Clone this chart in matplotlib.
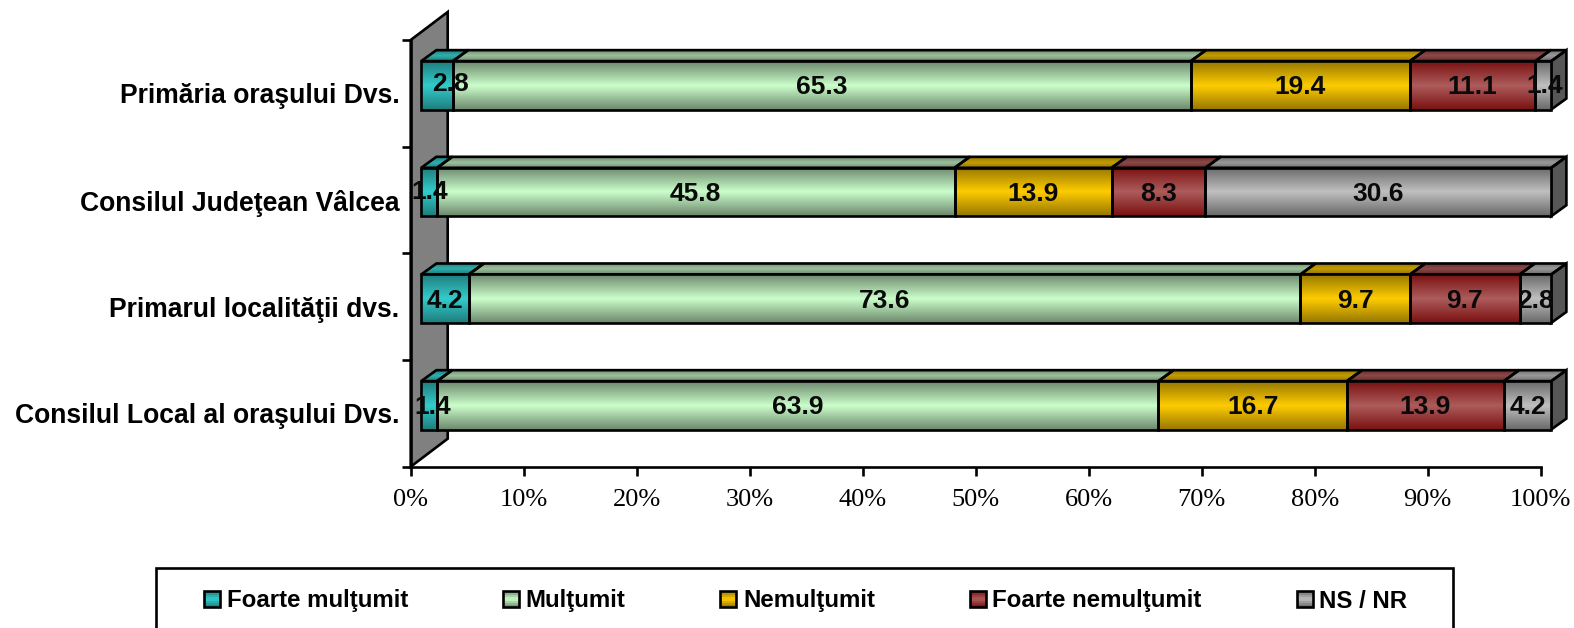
import numpy as np
import matplotlib
matplotlib.use("Agg")
import matplotlib.pyplot as plt
from matplotlib.colors import LinearSegmentedColormap
from matplotlib.legend_handler import HandlerBase
from matplotlib.patches import Polygon, Patch, Rectangle

categories = ["Consilul Local al oraşului Dvs.", "Primarul localităţii dvs.",
              "Consilul Judeţean Vâlcea", "Primăria oraşului Dvs."]
series_names = ["Foarte mulţumit", "Mulţumit", "Nemulţumit", "Foarte nemulţumit", "NS / NR"]
foarte_multumit = [1.4, 4.2, 1.4, 2.8]
multumit = [63.9, 73.6, 45.8, 65.3]
nemultumit = [16.7, 9.7, 13.9, 19.4]
foarte_nemultumit = [13.9, 9.7, 8.3, 11.1]
ns_nr = [4.2, 2.8, 30.6, 1.4]
series = [foarte_multumit, multumit, nemultumit, foarte_nemultumit, ns_nr]
x_ticks = list(range(0, 101, 10))

mid_colors = ["#33CCCC", "#CCFFCC", "#FFCC00", "#AD5C5C", "#C0C0C0"]
edge_colors = ["#1F7C7C", "#6B866B", "#947600", "#7A1010", "#686868"]
top_mid = ["#2FAFAF", "#9CC29C", "#C49C00", "#8A4A4A", "#9A9A9A"]
top_edge = ["#1F7C7C", "#6F8A6F", "#947600", "#6E2A2A", "#6E6E6E"]

W, H = 1574, 628
L, R, T, B = 410.7, 1540.7, 40.0, 466.7
fig = plt.figure(figsize=(W / 100, H / 100), dpi=100, facecolor="white")
ax = fig.add_axes([L / W, 1 - B / H, (R - L) / W, (B - T) / H])
px = 100 / (R - L)
py = 4 / (B - T)
LW = 1.9

sans = ["Liberation Sans", "DejaVu Sans"]
serif = ["Liberation Serif", "DejaVu Serif"]


def shaded(points, c_edge, c_mid, z):
    pts = np.array(points)
    cmap = LinearSegmentedColormap.from_list("g", [c_edge, c_mid, c_edge])
    grad = np.linspace(0, 1, 128).reshape(-1, 1)
    im = ax.imshow(grad, cmap=cmap, aspect="auto", zorder=z,
                   extent=[pts[:, 0].min(), pts[:, 0].max(), pts[:, 1].min(), pts[:, 1].max()])
    poly = Polygon(pts, closed=True, facecolor="none", edgecolor="black", lw=LW,
                   zorder=z + 0.1, clip_on=False, joinstyle="miter")
    ax.add_patch(poly)
    im.set_clip_box(fig.bbox)
    im.set_clip_path(poly)


class GradientHandle(HandlerBase):
    def __init__(self, c_edge, c_mid):
        super().__init__()
        self.cmap = LinearSegmentedColormap.from_list("g", [c_edge, c_mid, c_edge])

    def create_artists(self, legend, orig_handle, xdescent, ydescent, width, height,
                       fontsize, trans):
        n = 8
        artists = []
        for i in range(n):
            artists.append(Rectangle((-xdescent, -ydescent + height * i / n), width, height / n,
                                     facecolor=self.cmap((i + 0.5) / n), edgecolor="none",
                                     transform=trans))
        artists.append(Rectangle((-xdescent, -ydescent), width, height, facecolor="none",
                                 edgecolor="black", lw=LW, transform=trans))
        return artists


# back wall
wx, wy = 37 * px, 28 * py
ax.add_patch(Polygon([(0, -0.5), (wx, -0.5 + wy), (wx, 3.5 + wy), (0, 3.5)], closed=True,
                     facecolor="#808080", edgecolor="black", lw=LW, zorder=1, clip_on=False))

ox, oy = 10.5 * px, 8 * py
dx, dy = 15.2 * px, 11 * py
h = 48.4 * py

values = np.array(series, dtype=float)
shares = values / values.sum(axis=0) * 100
starts = np.vstack([np.zeros(4), np.cumsum(shares, axis=0)[:-1]])

# pixel nudges of the few labels that were moved by hand in the original
nudge = {(0, 3): (13, -3), (0, 2): (1, -2), (0, 0): (4, 0), (4, 3): (1, -1)}

for s, name in enumerate(series_names):
    for c in range(4):
        x0 = starts[s, c] + ox
        x1 = x0 + shares[s, c]
        y0 = c + oy - h / 2
        y1 = c + oy + h / 2
        shaded([(x0, y1), (x0 + dx, y1 + dy), (x1 + dx, y1 + dy), (x1, y1)],
               top_edge[s], top_mid[s], 3)
        shaded([(x0, y0), (x0, y1), (x1, y1), (x1, y0)], edge_colors[s], mid_colors[s], 4)
        if s == len(series_names) - 1:
            ax.add_patch(Polygon([(x1, y0), (x1, y1), (x1 + dx, y1 + dy), (x1 + dx, y0 + dy)],
                                 closed=True, facecolor="#565656", edgecolor="black", lw=LW,
                                 zorder=3, clip_on=False))
for s in range(5):
    for c in range(4):
        nx, ny = nudge.get((s, c), (0, 0))
        ax.text((starts[s, c] + ox + shares[s, c] / 2) + nx * px, c + oy - (ny + 2) * py,
                f"{values[s, c]:.1f}", ha="center", va="center", family=sans,
                weight="bold", fontsize=19, color="#0a0a0a", zorder=6, clip_on=False)

ax.set_xlim(0, 100)
ax.set_ylim(-0.5, 3.5)
for side in ("top", "right"):
    ax.spines[side].set_visible(False)
for side in ("left", "bottom"):
    ax.spines[side].set_linewidth(LW)
    ax.spines[side].set_zorder(2)
ax.patch.set_visible(False)

ax.set_xticks(x_ticks)
ax.set_xticklabels([f"{v}%" for v in x_ticks], family=serif, fontsize=19)
ax.tick_params(axis="x", length=6.5, width=LW, pad=9.5)
ax.set_yticks(np.arange(-0.5, 4, 1))
ax.set_yticklabels([])
ax.tick_params(axis="y", which="major", length=6.5, width=LW)
ax.set_yticks(range(4), minor=True)
ax.set_yticklabels(categories, minor=True, family=sans, weight="bold", fontsize=19.1)
ax.tick_params(axis="y", which="minor", length=0, pad=8)

# legend frame runs off the lower edge of the picture, as in the reference
fig.add_artist(Rectangle((156 / W, -0.05), (1453 - 156) / W, 0.05 + 1 - 568 / H,
                         transform=fig.transFigure, facecolor="white", edgecolor="black", lw=LW))
handles = [Patch(facecolor=mid_colors[i], edgecolor="black", lw=LW) for i in range(5)]
handler_map = {handles[i]: GradientHandle(edge_colors[i], mid_colors[i]) for i in range(5)}
fig.legend(handles, series_names, loc="center left", frameon=False, ncols=5,
           bbox_to_anchor=(182.5 / W, 1 - 601 / H), bbox_transform=fig.transFigure,
           prop={"family": sans, "weight": "bold", "size": 17.3}, handler_map=handler_map,
           handlelength=0.66, handleheight=0.66, handletextpad=0.28, columnspacing=3.95)

fig.savefig("out.png", dpi=100)
